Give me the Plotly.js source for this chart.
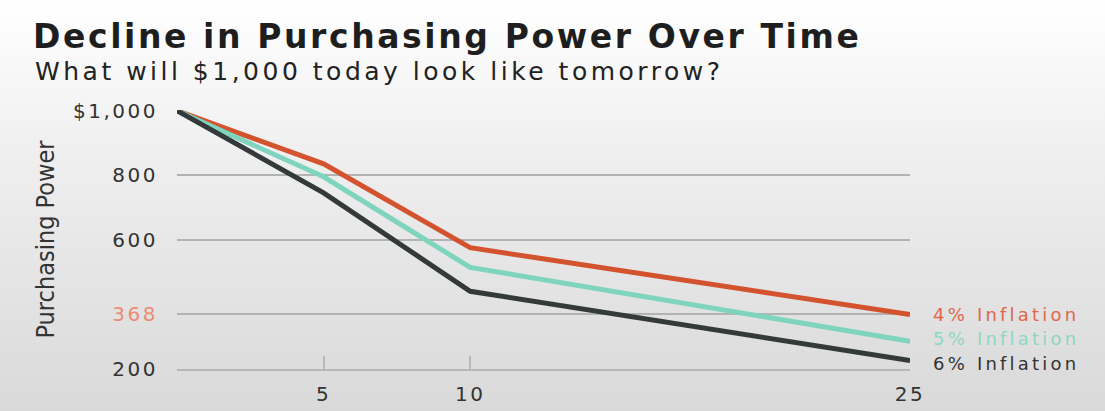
<!DOCTYPE html>
<html>
<head>
<meta charset="utf-8">
<script src="https://cdn.plot.ly/plotly-3.0.1.min.js"></script>
<style>
  html, body { margin: 0; padding: 0; }
  body { width: 1105px; height: 411px; background: linear-gradient(to bottom, #ffffff 0%, #f0f0f0 35%, #d9d9d9 100%); }
  #chart { width: 1105px; height: 411px; }
  #chart .gtitle { letter-spacing: 2.6px; }
  #chart g.annotation .annotation-text { letter-spacing: 3.2px; }
  #chart g.annotation[data-index="3"] .annotation-text { letter-spacing: 3.5px; }
  #chart .xtick text, #chart .ytick text { letter-spacing: 2.5px; }
</style>
</head>
<body>
<div id="chart"></div>
<script>
// Years from today
const years = [0, 5, 10, 25];
// Purchasing power of $1,000
const inflation4 = [1000, 835, 575, 368];
const inflation5 = [1000, 795, 514, 285];
const inflation6 = [1000, 745, 440, 225];
const seriesNames = ['4% Inflation', '5% Inflation', '6% Inflation'];
const seriesColors = ['#d4532f', '#7fd4bd', '#343a3a'];
const labelColors = ['#e0674b', '#8fd6c3', '#333333'];
const labelShifts = [0, 3, -3];
const yTickVals = [200, 368, 600, 800, 1000];
const yTickText = ['200', '<span style="color:#ec8a75">368</span>', '600', '800', '$1,000'];
const xTickVals = [0, 5, 10, 25];
const xTickText = ['', '5', '10', '25'];

const seriesValues = [inflation4, inflation5, inflation6];
const traces = seriesValues.map((vals, i) => ({
  x: years, y: vals, type: 'scatter', mode: 'lines', name: seriesNames[i],
  line: { color: seriesColors[i], width: 5 }, hoverinfo: 'x+y'
}));

const annotations = seriesValues.map((vals, i) => ({
  x: years[years.length - 1], y: vals[vals.length - 1], xref: 'x', yref: 'y',
  text: seriesNames[i], showarrow: false, xanchor: 'left', yanchor: 'middle', align: 'left',
  xshift: 22, yshift: labelShifts[i], borderpad: 0,
  font: { family: 'DejaVu Sans', size: 18, color: labelColors[i] }
}));
annotations.push({
  xref: 'paper', yref: 'paper', x: -0.196, y: 1.147, xanchor: 'left', yanchor: 'middle', align: 'left',
  text: 'What will $1,000 today look like tomorrow?', showarrow: false,
  font: { family: 'DejaVu Sans', size: 25, color: '#222222' }
});

const layout = {
  width: 1105, height: 411,
  paper_bgcolor: 'rgba(0,0,0,0)', plot_bgcolor: 'rgba(0,0,0,0)',
  margin: { l: 177, r: 195, t: 110, b: 42 },
  showlegend: false,
  title: {
    text: '<b>Decline in Purchasing Power Over Time</b>',
    xref: 'container', yref: 'container', x: 33 / 1105, y: 1 - 36 / 411,
    xanchor: 'left', yanchor: 'middle',
    font: { family: 'DejaVu Sans', size: 33, color: '#1e1e1e' }
  },
  xaxis: {
    range: [0, 25], tickmode: 'array', tickvals: xTickVals, ticktext: xTickText,
    showgrid: false, zeroline: false, showline: true, linecolor: '#b8b8b8', linewidth: 2,
    ticks: 'inside', ticklen: 13, tickwidth: 2, tickcolor: '#b8b8b8',
    tickfont: { family: 'DejaVu Sans', size: 20, color: '#333333' }, ticklabelstandoff: 6
  },
  yaxis: {
    range: [199, 1002], tickmode: 'array', tickvals: yTickVals, ticktext: yTickText,
    showgrid: true, gridcolor: '#b3b3b3', gridwidth: 2, zeroline: false, showline: false,
    ticks: '', ticklabelstandoff: 18,
    tickfont: { family: 'DejaVu Sans', size: 20, color: '#333333' },
    title: { text: 'Purchasing Power', standoff: 26,
      font: { family: 'Liberation Sans Narrow, DejaVu Sans Condensed', size: 25, color: '#333333' } }
  },
  annotations: annotations
};

Plotly.newPlot('chart', traces, layout, { displayModeBar: false, staticPlot: true });
</script>
</body>
</html>
